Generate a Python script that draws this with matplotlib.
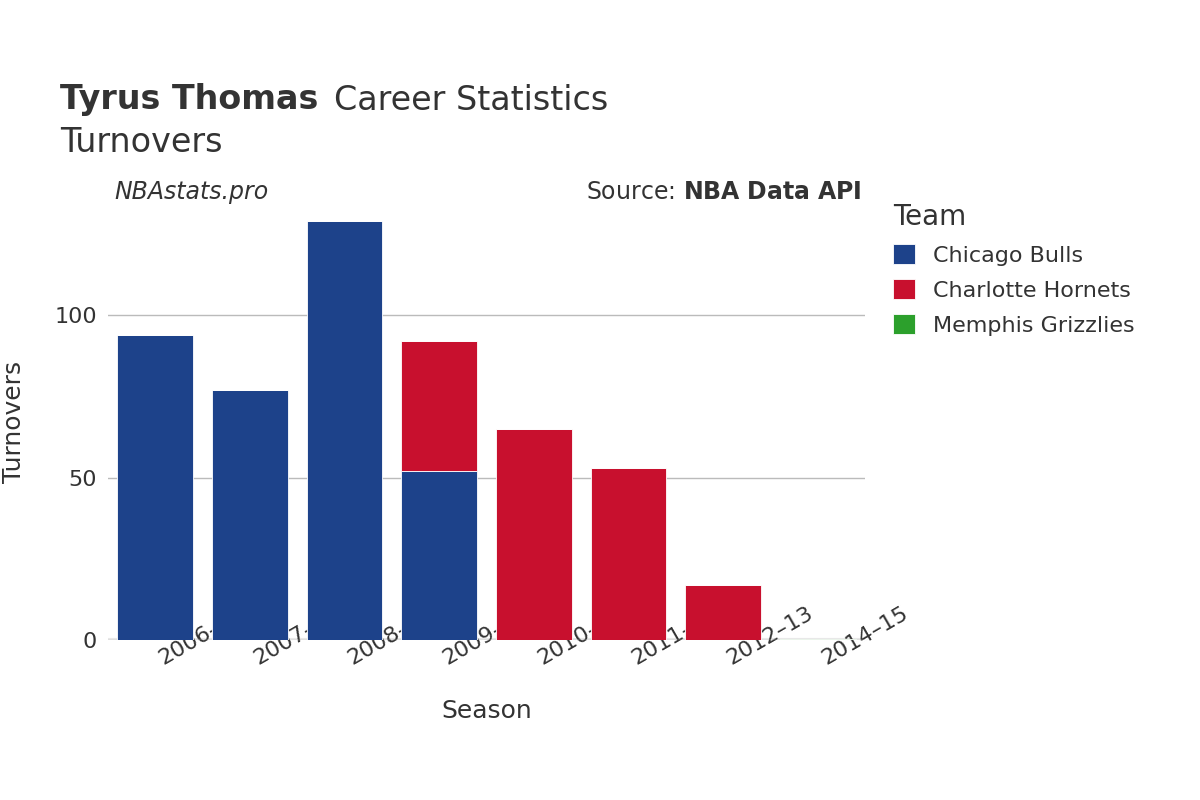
import matplotlib
matplotlib.use("Agg")
import matplotlib.pyplot as plt
from matplotlib.patches import FancyBboxPatch
import numpy as np

seasons = ["2006–07","2007–08","2008–09","2009–10","2010–11","2011–12","2012–13","2014–15"]
bulls = [94, 77, 129, 52, 0, 0, 0, 0]
hornets = [0, 0, 0, 40, 65, 53, 17, 0]
grizzlies = [0, 0, 0, 0, 0, 0, 0, 0.3]
teams = ["Chicago Bulls", "Charlotte Hornets", "Memphis Grizzlies"]
colors = ["#1d428a", "#c8102e", "#2ca02c"]

plt.rcParams["font.family"] = "DejaVu Sans"
fig = plt.figure(figsize=(12, 8), dpi=100)
ax = fig.add_axes([0.09, 0.2, 0.631, 0.544])
x = np.arange(len(seasons))
bottom = np.zeros(len(seasons))
for vals, c, t in zip([bulls, hornets, grizzlies], colors, teams):
    v = np.array(vals, float)
    ax.bar(x, v, 0.8, bottom=bottom, color=c, label=t, edgecolor="white", linewidth=0.6)
    bottom += v
ax.set_xlim(-0.5, 7.5)
ax.set_ylim(0, 134)
ax.set_yticks([0, 50, 100])
ax.yaxis.grid(True, color="#bbbbbb", linewidth=1)
ax.set_axisbelow(True)
for s in ax.spines.values():
    s.set_visible(False)
ax.axhline(0, color="#e8e8e8", linewidth=3, zorder=0)
ax.tick_params(length=0, labelsize=16, colors="#333333", pad=8)
ax.set_xticks(x)
ax.set_xticklabels(seasons, rotation=30, ha="left", rotation_mode="anchor")
for lbl in ax.get_xticklabels():
    lbl.set_x(0)
ax.set_xlabel("Season", fontsize=18, color="#333333", labelpad=22)
ax.set_ylabel("Turnovers", fontsize=18, color="#333333", labelpad=20)

fig.text(0.05, 0.875, "Tyrus Thomas", fontsize=24, fontweight="bold", color="#333333", va="center")
fig.text(0.278, 0.875, "Career Statistics", fontsize=24, color="#333333", va="center")
fig.text(0.05, 0.822, "Turnovers", fontsize=24, color="#333333", va="center")
fig.text(0.095, 0.76, "NBAstats.pro", fontsize=17, style="italic", color="#333333", va="center")
fig.text(0.718, 0.76, "Source: $\\bf{NBA\\ Data\\ API}$", fontsize=17, color="#333333", va="center", ha="right")

leg = ax.legend(loc="upper left", bbox_to_anchor=(1.01, 1.05), frameon=False, fontsize=16,
                title="Team", title_fontsize=20, handlelength=1, handleheight=1,
                labelspacing=0.6, alignment="left", labelcolor="#333333")
leg.get_title().set_color("#333333")
fig.savefig("out.png", dpi=100, facecolor="white")
